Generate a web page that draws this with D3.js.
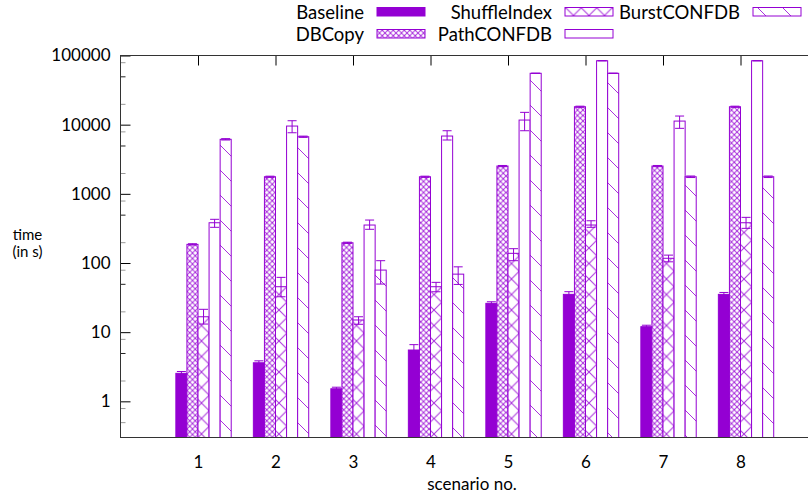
<!DOCTYPE html>
<html>
<head>
<meta charset="utf-8">
<script src="https://cdn.jsdelivr.net/npm/d3@7"></script>
<style>
body{margin:0;background:#fff;}
text{font-family:Lato,"Open Sans",sans-serif;fill:#000;}
</style>
</head>
<body>
<svg id="drawing_region"></svg>
<script>
// data (time in s, log scale)
const scenarios = [1,2,3,4,5,6,7,8];
const series_names = ["Baseline","DBCopy","ShuffleIndex","PathCONFDB","BurstCONFDB"];

const baseline     = [2.54,3.61,1.52,5.52,26.1,35.2,12.0,35.2];
const baseline_lo  = [2.4,3.45,1.45,5.1,25,33.5,11.5,33.5];
const baseline_hi  = [2.7,3.85,1.6,6.6,27.5,38.5,12.6,37.5];

const db_copy      = [186,1766,196,1766,2523,18160,2523,18160];
const db_copy_lo   = [182,1730,192,1730,2470,17800,2470,17800];
const db_copy_hi   = [190,1800,200,1800,2570,18500,2570,18500];

const shuffle      = [16.7,45.4,15,45.4,138,354,117,382];
const shuffle_lo   = [13.1,32.5,13,38.4,108,328,104,317];
const shuffle_hi   = [21.4,62,16.7,52.5,161,408,130,457];

const path_confdb    = [382,9550,354,6850,11660,84000,11270,84000];
const path_confdb_lo = [328,7640,307,6000,8170,84000,8850,84000];
const path_confdb_hi = [428,11400,418,8170,15070,84000,13330,84000];

const burst_confdb    = [6140,6690,79,69,55300,55300,1766,1766];
const burst_confdb_lo = [6000,6550,49.6,49,55300,55300,1720,1720];
const burst_confdb_hi = [6280,6830,108,88,55300,55300,1810,1810];

const y_ticks = [1,10,100,1000,10000,100000];

const series = [
    {name:series_names[0],values:baseline,lo:baseline_lo,hi:baseline_hi,fill:"#9400d3"},
    {name:series_names[1],values:db_copy,lo:db_copy_lo,hi:db_copy_hi,fill:"url(#p_dense)"},
    {name:series_names[2],values:shuffle,lo:shuffle_lo,hi:shuffle_hi,fill:"url(#p_cross)"},
    {name:series_names[3],values:path_confdb,lo:path_confdb_lo,hi:path_confdb_hi,fill:"#fff"},
    {name:series_names[4],values:burst_confdb,lo:burst_confdb_lo,hi:burst_confdb_hi,fill:"url(#p_diag)"}
];

const purple = "#9400d3";
const width = 808, height = 498;
const plot = {left:120.5,right:818,top:55.5,bottom:437.5};

const svg = d3.select("#drawing_region")
    .attr("width",width)
    .attr("height",height);

// fill patterns, fixed to the page like gnuplot's
const defs = svg.append("defs");
function add_pattern(id,size,lines){
    const p = defs.append("pattern")
        .attr("id",id)
        .attr("patternUnits","userSpaceOnUse")
        .attr("width",size).attr("height",size);
    p.append("rect").attr("width",size).attr("height",size).attr("fill","#fff");
    lines.forEach(l=>{
        p.append("line")
            .attr("x1",l[0]*size).attr("y1",l[1]*size)
            .attr("x2",l[2]*size).attr("y2",l[3]*size)
            .attr("stroke",purple).attr("stroke-opacity",0.8)
            .attr("stroke-width",1);
    });
}
add_pattern("p_dense",5.5,[[0,0,1,1],[0,1,1,0]]);
add_pattern("p_cross",15.5,[[0,0,1,1],[0,1,1,0]]);
add_pattern("p_diag",25,[[0,0,1,1],[-0.1,0.9,0.1,1.1],[0.9,-0.1,1.1,0.1]]);

const xscale = d3.scaleLinear().domain([0,9]).range([plot.left,plot.right]);
const yscale = d3.scaleLog().domain([0.3,100000]).range([plot.bottom,plot.top]);
const slot = xscale(1/7)-xscale(0);

// axes (ticks point inwards)
const minor = [];
[0.1,1,10,100,1000,10000].forEach(d=>{
    [2,5,8].forEach(m=>{
        const v = d*m;
        if(v>=0.3 && v<100000) minor.push(v);
    });
});

svg.append("g")
    .attr("transform",`translate(${plot.left},0)`)
    .call(d3.axisLeft(yscale).tickValues(minor).tickSize(-5).tickSizeOuter(0).tickFormat(""))
    .call(g=>g.select(".domain").remove())
    .call(g=>g.selectAll(".tick line").attr("stroke",d=>String(d).startsWith("5")?"#222":"#999"));

svg.append("g")
    .attr("transform",`translate(${plot.right},0)`)
    .call(d3.axisRight(yscale).tickValues(y_ticks).tickSize(-10).tickSizeOuter(0).tickFormat(""))
    .call(g=>g.select(".domain").remove())
    .call(g=>g.selectAll(".tick line").attr("stroke","#999"));

svg.append("g")
    .attr("transform",`translate(${plot.left},0)`)
    .call(d3.axisLeft(yscale).tickValues(y_ticks).tickSize(-10).tickSizeOuter(0).tickPadding(10).tickFormat(d3.format("d")))
    .call(g=>g.select(".domain").remove())
    .call(g=>g.selectAll("text").attr("font-size",17).attr("font-family","Lato"));

svg.append("g")
    .attr("transform",`translate(0,${plot.top})`)
    .call(d3.axisTop(xscale).tickValues(scenarios).tickSize(-10).tickSizeOuter(0).tickFormat(""))
    .call(g=>g.select(".domain").remove());

svg.append("g")
    .attr("transform",`translate(0,${plot.bottom})`)
    .call(d3.axisBottom(xscale).tickValues(scenarios).tickSize(-10).tickSizeOuter(0).tickPadding(18))
    .call(g=>g.select(".domain").remove())
    .call(g=>g.selectAll("text").attr("font-size",17).attr("font-family","Lato"));

// bars
series.forEach((s,i)=>{
    const g = svg.append("g");
    g.selectAll("rect")
        .data(s.values)
        .enter()
        .append("rect")
        .attr("x",(d,k)=>xscale(scenarios[k])+(i-2)*slot)
        .attr("y",d=>yscale(d))
        .attr("width",slot)
        .attr("height",d=>plot.bottom-yscale(d))
        .attr("fill",s.fill)
        .attr("stroke",purple)
        .attr("stroke-width",1);
    // error bars
    const eb = g.selectAll(".err")
        .data(s.values.map((d,k)=>({k:k,lo:s.lo[k],hi:s.hi[k]})))
        .enter()
        .append("g")
        .attr("transform",d=>`translate(${xscale(scenarios[d.k])+(i-1.5)*slot},0)`)
        .attr("stroke",purple)
        .attr("stroke-width",1);
    eb.append("line").attr("x1",0).attr("x2",0)
        .attr("y1",d=>yscale(d.lo)).attr("y2",d=>yscale(d.hi));
    eb.append("line").attr("x1",-4.5).attr("x2",4.5)
        .attr("y1",d=>yscale(d.lo)).attr("y2",d=>yscale(d.lo));
    eb.append("line").attr("x1",-4.5).attr("x2",4.5)
        .attr("y1",d=>yscale(d.hi)).attr("y2",d=>yscale(d.hi));
});

// frame
svg.append("rect")
    .attr("x",plot.left).attr("y",plot.top)
    .attr("width",plot.right-plot.left).attr("height",plot.bottom-plot.top)
    .attr("fill","none").attr("stroke","#333").attr("stroke-width",1);

// axis labels
svg.append("text")
    .attr("x",27.5).attr("y",240)
    .attr("text-anchor","middle")
    .attr("font-size",15)
    .text("time");
svg.append("text")
    .attr("x",27.5).attr("y",257)
    .attr("text-anchor","middle")
    .attr("font-size",15)
    .text("(in s)");
svg.append("text")
    .attr("x",472).attr("y",490)
    .attr("text-anchor","middle")
    .attr("font-size",17)
    .text("scenario no.");

// legend: two rows, filled column by column
const legend_cols = [377,565,753];
const legend_rows = [7.5,29.5];
series.forEach((s,i)=>{
    const cx = legend_cols[Math.floor(i/2)];
    const ry = legend_rows[i%2];
    svg.append("text")
        .attr("x",cx-13).attr("y",ry+11)
        .attr("text-anchor","end")
        .attr("font-size",18.5)
        .text(s.name);
    svg.append("rect")
        .attr("x",cx).attr("y",ry)
        .attr("width",48).attr("height",8.5)
        .attr("fill",s.fill)
        .attr("stroke",purple)
        .attr("stroke-width",1);
});
</script>
</body>
</html>
